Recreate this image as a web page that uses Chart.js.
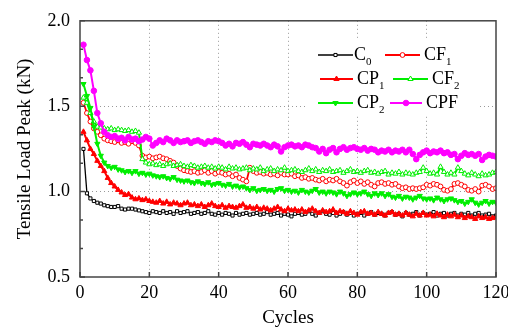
<!DOCTYPE html>
<html>
<head>
<meta charset="utf-8">
<script src="https://cdn.jsdelivr.net/npm/chart.js@4"></script>
<style>
  html, body { margin: 0; padding: 0; background: #fff; }
</style>
</head>
<body>
<canvas id="chart" width="508" height="329"></canvas>
<script>
// cycle numbers 1..120
const cycles = Array.from({ length: 120 }, (_, i) => i + 1);

const xTicks = [0, 20, 40, 60, 80, 100, 120];
const yTicks = [0.5, 1.0, 1.5, 2.0];

// Tensile load peak (kN)
const c0 = [1.25, 0.99, 0.96, 0.945, 0.935, 0.93, 0.92, 0.915, 0.91, 0.91,
  0.915, 0.90, 0.895, 0.90, 0.90, 0.895, 0.89, 0.885, 0.88, 0.875,
  0.885, 0.88, 0.875, 0.885, 0.875, 0.88, 0.87, 0.885, 0.875, 0.88,
  0.885, 0.87, 0.875, 0.88, 0.87, 0.875, 0.885, 0.87, 0.865, 0.875,
  0.865, 0.875, 0.87, 0.86, 0.875, 0.865, 0.87, 0.875, 0.865, 0.87,
  0.875, 0.865, 0.87, 0.88, 0.865, 0.87, 0.875, 0.86, 0.87, 0.865,
  0.855, 0.87, 0.875, 0.865, 0.87, 0.885, 0.87, 0.86, 0.875, 0.885,
  0.87, 0.865, 0.875, 0.86, 0.87, 0.88, 0.865, 0.875, 0.86, 0.87,
  0.875, 0.86, 0.87, 0.88, 0.865, 0.875, 0.87, 0.86, 0.875, 0.88,
  0.865, 0.87, 0.855, 0.875, 0.865, 0.87, 0.88, 0.86, 0.875, 0.865,
  0.87, 0.88, 0.86, 0.87, 0.875, 0.86, 0.87, 0.875, 0.86, 0.87,
  0.865, 0.875, 0.86, 0.87, 0.875, 0.86, 0.865, 0.87, 0.855, 0.86];

const cf1 = [1.52, 1.46, 1.41, 1.37, 1.35, 1.33, 1.31, 1.30, 1.295, 1.29,
  1.30, 1.285, 1.29, 1.28, 1.295, 1.285, 1.27, 1.21, 1.20, 1.205,
  1.195, 1.20, 1.205, 1.195, 1.19, 1.18, 1.17, 1.15, 1.135, 1.125,
  1.12, 1.115, 1.12, 1.11, 1.115, 1.125, 1.11, 1.12, 1.105, 1.115,
  1.11, 1.10, 1.105, 1.09, 1.10, 1.08, 1.07, 1.06, 1.14, 1.12,
  1.11, 1.115, 1.105, 1.11, 1.10, 1.105, 1.095, 1.11, 1.10, 1.10,
  1.105, 1.09, 1.095, 1.08, 1.085, 1.075, 1.08, 1.07, 1.065, 1.075,
  1.06, 1.07, 1.065, 1.075, 1.06, 1.05, 1.035, 1.055, 1.065, 1.05,
  1.06, 1.045, 1.055, 1.04, 1.03, 1.05, 1.055, 1.045, 1.05, 1.04,
  1.045, 1.03, 1.02, 1.025, 1.015, 1.02, 1.015, 1.02, 1.025, 1.04,
  1.035, 1.045, 1.04, 1.03, 1.01, 1.005, 1.015, 1.045, 1.05, 1.04,
  1.03, 1.01, 1.005, 1.015, 1.00, 1.035, 1.04, 1.03, 1.015, 1.02];

const cp1 = [1.35, 1.30, 1.25, 1.22, 1.18, 1.15, 1.12, 1.08, 1.05, 1.03,
  1.01, 0.995, 0.98, 0.985, 0.965, 0.955, 0.96, 0.95, 0.955, 0.945,
  0.94, 0.935, 0.945, 0.93, 0.94, 0.925, 0.935, 0.93, 0.92, 0.93,
  0.935, 0.92, 0.925, 0.915, 0.925, 0.91, 0.92, 0.93, 0.915, 0.91,
  0.92, 0.905, 0.915, 0.91, 0.905, 0.915, 0.925, 0.905, 0.91, 0.90,
  0.91, 0.895, 0.905, 0.90, 0.89, 0.90, 0.91, 0.895, 0.885, 0.90,
  0.89, 0.895, 0.885, 0.895, 0.88, 0.89, 0.90, 0.885, 0.875, 0.89,
  0.88, 0.885, 0.895, 0.875, 0.885, 0.88, 0.87, 0.885, 0.875, 0.865,
  0.88, 0.885, 0.87, 0.875, 0.865, 0.88, 0.87, 0.86, 0.875, 0.88,
  0.865, 0.87, 0.86, 0.875, 0.865, 0.855, 0.87, 0.86, 0.875, 0.86,
  0.865, 0.855, 0.87, 0.86, 0.85, 0.865, 0.855, 0.865, 0.85, 0.86,
  0.845, 0.855, 0.85, 0.84, 0.855, 0.845, 0.85, 0.84, 0.845, 0.85];

const cf2 = [1.55, 1.52, 1.46, 1.41, 1.38, 1.375, 1.37, 1.365, 1.37, 1.36,
  1.365, 1.36, 1.355, 1.36, 1.35, 1.355, 1.345, 1.19, 1.17, 1.16,
  1.165, 1.155, 1.16, 1.15, 1.16, 1.165, 1.15, 1.155, 1.16, 1.15,
  1.145, 1.155, 1.15, 1.14, 1.145, 1.15, 1.14, 1.145, 1.135, 1.145,
  1.14, 1.13, 1.145, 1.135, 1.14, 1.13, 1.135, 1.14, 1.125, 1.135,
  1.13, 1.14, 1.12, 1.13, 1.135, 1.12, 1.13, 1.125, 1.14, 1.12,
  1.125, 1.13, 1.12, 1.115, 1.125, 1.135, 1.12, 1.13, 1.115, 1.125,
  1.12, 1.13, 1.115, 1.12, 1.125, 1.11, 1.12, 1.13, 1.115, 1.12,
  1.11, 1.12, 1.125, 1.11, 1.115, 1.105, 1.115, 1.12, 1.10, 1.11,
  1.105, 1.115, 1.10, 1.11, 1.105, 1.10, 1.11, 1.115, 1.14, 1.12,
  1.105, 1.11, 1.10, 1.145, 1.115, 1.10, 1.11, 1.10, 1.14, 1.12,
  1.105, 1.095, 1.11, 1.10, 1.09, 1.105, 1.095, 1.10, 1.11, 1.115];

const cp2 = [1.63, 1.56, 1.49, 1.38, 1.28, 1.21, 1.17, 1.15, 1.14, 1.145,
  1.13, 1.125, 1.115, 1.12, 1.11, 1.12, 1.105, 1.11, 1.10, 1.105,
  1.095, 1.09, 1.085, 1.09, 1.08, 1.075, 1.085, 1.07, 1.065, 1.06,
  1.065, 1.055, 1.05, 1.06, 1.05, 1.045, 1.055, 1.04, 1.045, 1.05,
  1.04, 1.035, 1.045, 1.03, 1.035, 1.025, 1.03, 1.02, 1.01, 1.02,
  1.005, 1.01, 1.015, 1.005, 1.01, 1.00, 1.015, 1.02, 1.005, 1.01,
  1.00, 1.005, 0.995, 1.01, 1.00, 0.995, 1.005, 1.015, 0.995, 1.00,
  0.99, 1.00, 0.995, 0.985, 1.00, 0.99, 0.975, 0.985, 0.995, 0.985,
  0.99, 1.00, 0.985, 0.975, 0.99, 0.98, 0.99, 0.975, 0.985, 0.97,
  0.965, 0.975, 0.96, 0.97, 0.965, 0.955, 0.965, 0.975, 0.96, 0.955,
  0.96, 0.95, 0.965, 0.955, 0.945, 0.955, 0.96, 0.95, 0.94, 0.945,
  0.93, 0.94, 0.955, 0.935, 0.925, 0.935, 0.945, 0.93, 0.94, 0.935];

const cpf = [1.86, 1.77, 1.71, 1.59, 1.46, 1.40, 1.35, 1.33, 1.32, 1.325,
  1.31, 1.315, 1.30, 1.32, 1.305, 1.31, 1.295, 1.305, 1.32, 1.31,
  1.27, 1.285, 1.30, 1.29, 1.31, 1.30, 1.285, 1.30, 1.29, 1.295,
  1.30, 1.285, 1.295, 1.30, 1.29, 1.28, 1.295, 1.29, 1.30, 1.295,
  1.285, 1.27, 1.28, 1.265, 1.285, 1.28, 1.29, 1.275, 1.26, 1.28,
  1.275, 1.27, 1.28, 1.27, 1.26, 1.275, 1.265, 1.235, 1.26, 1.27,
  1.275, 1.265, 1.27, 1.26, 1.275, 1.27, 1.26, 1.255, 1.235, 1.25,
  1.225, 1.245, 1.255, 1.23, 1.25, 1.26, 1.245, 1.255, 1.26, 1.25,
  1.245, 1.255, 1.24, 1.25, 1.245, 1.23, 1.24, 1.235, 1.245, 1.23,
  1.24, 1.235, 1.245, 1.23, 1.245, 1.22, 1.19, 1.215, 1.23, 1.24,
  1.225, 1.235, 1.23, 1.24, 1.225, 1.23, 1.215, 1.22, 1.19, 1.21,
  1.225, 1.215, 1.22, 1.21, 1.22, 1.185, 1.205, 1.215, 1.21, 1.205];

const FONT = "'Liberation Serif', 'Times New Roman', serif";

// series look + where its legend entry sits
const series = [
  { name: 'C', sub: '0', data: c0, color: '#000000', style: 'rect', fill: '#ffffff', r: 2.2, lw: 1.3,
    leg: { x1: 318, x2: 353, y: 55, tx: 354 } },
  { name: 'CF', sub: '1', data: cf1, color: '#ff0000', style: 'circle', fill: '#ffffff', r: 2.4, lw: 1.8,
    leg: { x1: 385, x2: 420, y: 55, tx: 424 } },
  { name: 'CP', sub: '1', data: cp1, color: '#ff0000', style: 'triangle', fill: '#ff0000', r: 3, lw: 2,
    leg: { x1: 320, x2: 353, y: 79, tx: 357 } },
  { name: 'CF', sub: '2', data: cf2, color: '#00ee00', style: 'triangle', fill: '#ffffff', r: 3, lw: 2,
    leg: { x1: 393, x2: 428, y: 79, tx: 432 } },
  { name: 'CP', sub: '2', data: cp2, color: '#00ee00', style: 'triangle', rot: 180, fill: '#00ee00', r: 3, lw: 2,
    leg: { x1: 318, x2: 353, y: 103, tx: 357 } },
  { name: 'CPF', sub: '', data: cpf, color: '#ff00ff', style: 'circle', fill: '#ff00ff', r: 2.8, lw: 2,
    leg: { x1: 390, x2: 422, y: 103, tx: 426 } },
];

const datasets = series.map((s, i) => ({
  label: s.name + s.sub,
  data: cycles.map((c, k) => ({ x: c, y: s.data[k] })),
  borderColor: s.color,
  borderWidth: s.lw,
  pointStyle: s.style,
  rotation: s.rot || 0,
  pointRadius: s.r,
  pointBorderWidth: 1,
  pointBorderColor: s.color,
  pointBackgroundColor: s.fill,
  tension: 0,
  order: series.length - i,
}));

// white legend box with sample lines, markers and subscript labels
const legendPlugin = {
  id: 'boxLegend',
  afterDatasetsDraw(chart) {
    const ctx = chart.ctx;
    ctx.save();
    ctx.fillStyle = '#ffffff';
    ctx.fillRect(308, 38, 172, 77);
    series.forEach(s => {
      const L = s.leg;
      ctx.strokeStyle = s.color;
      ctx.lineWidth = s.lw;
      ctx.beginPath();
      ctx.moveTo(L.x1, L.y);
      ctx.lineTo(L.x2, L.y);
      ctx.stroke();
      ctx.fillStyle = s.fill;
      ctx.strokeStyle = s.color;
      ctx.lineWidth = 1;
      Chart.helpers.drawPoint(ctx, { pointStyle: s.style, radius: s.r, rotation: s.rot || 0, borderWidth: 1 },
        (L.x1 + L.x2) / 2, L.y);
      ctx.fillStyle = '#000';
      ctx.textBaseline = 'middle';
      ctx.font = '18px ' + FONT;
      ctx.fillText(s.name, L.tx, L.y);
      const w = ctx.measureText(s.name).width;
      if (s.sub) {
        ctx.font = '11px ' + FONT;
        ctx.fillText(s.sub, L.tx + w, L.y + 7);
      }
    });
    ctx.restore();
  },
};

// box round the plot, with inward major and minor ticks
const framePlugin = {
  id: 'frame',
  afterDraw(chart) {
    const { ctx, chartArea: a, scales: { x, y } } = chart;
    ctx.save();
    ctx.strokeStyle = '#444';
    ctx.lineWidth = 1.5;
    ctx.strokeRect(a.left, a.top, a.right - a.left, a.bottom - a.top);
    ctx.beginPath();
    xTicks.forEach(v => {
      const px = x.getPixelForValue(v);
      ctx.moveTo(px, a.bottom);
      ctx.lineTo(px, a.bottom - 5);
    });
    yTicks.forEach((v, i) => {
      const py = y.getPixelForValue(v);
      ctx.moveTo(a.left, py);
      ctx.lineTo(a.left + 5, py);
      if (i < yTicks.length - 1) {
        const step = (yTicks[i + 1] - v) / 3;
        for (let k = 1; k < 3; k++) {
          const pm = y.getPixelForValue(v + step * k);
          ctx.moveTo(a.left, pm);
          ctx.lineTo(a.left + 3, pm);
        }
      }
    });
    ctx.stroke();
    ctx.restore();
  },
};

const gridColor = (ends) => (c) => (ends.includes(c.tick.value) ? 'rgba(0,0,0,0)' : '#999999');

new Chart(document.getElementById('chart'), {
  type: 'line',
  data: { datasets },
  options: {
    responsive: false,
    animation: false,
    devicePixelRatio: 1,
    layout: { padding: { top: 19, right: 12, left: 0, bottom: 0 } },
    plugins: { legend: { display: false }, tooltip: { enabled: false } },
    scales: {
      x: {
        type: 'linear',
        min: 0,
        max: 120,
        afterBuildTicks: (s) => { s.ticks = xTicks.map(v => ({ value: v })); },
        afterFit: (s) => { s.height = 52; s.paddingLeft = 0; s.paddingRight = 0; },
        ticks: { color: '#000', font: { family: FONT, size: 18 }, padding: 5, maxRotation: 0 },
        grid: { color: gridColor([0, 120]), lineWidth: 1, drawTicks: false },
        border: { display: false, dash: [1, 3] },
        title: { display: true, text: 'Cycles', color: '#000', font: { family: FONT, size: 19 }, padding: { top: 0, bottom: 0 } },
      },
      y: {
        min: 0.5,
        max: 2.0,
        afterBuildTicks: (s) => { s.ticks = yTicks.map(v => ({ value: v })); },
        afterFit: (s) => { s.width = 80; },
        ticks: { color: '#000', font: { family: FONT, size: 18 }, padding: 10, callback: (v) => v.toFixed(1) },
        grid: { color: gridColor([0.5, 2.0]), lineWidth: 1, drawTicks: false },
        border: { display: false, dash: [1, 3] },
        title: { display: true, text: 'Tensile Load Peak (kN)', color: '#000', font: { family: FONT, size: 19 }, padding: { top: 14, bottom: 0 } },
      },
    },
  },
  plugins: [legendPlugin, framePlugin],
});
</script>
</body>
</html>
